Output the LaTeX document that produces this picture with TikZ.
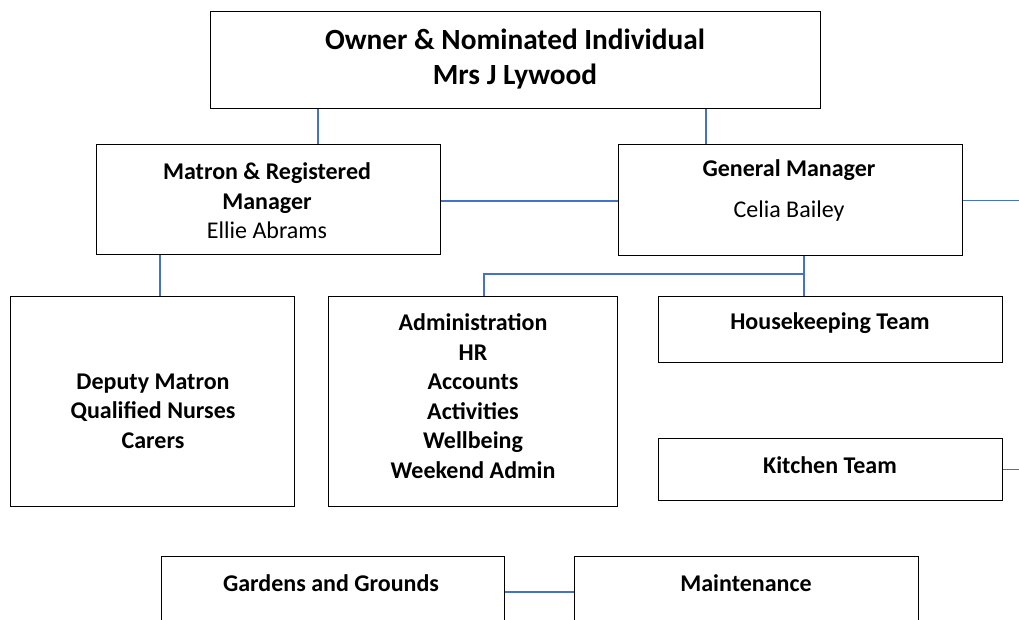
\documentclass[tikz,border=0pt]{standalone}
\usepackage{fontspec}
\setmainfont{Carlito}
\definecolor{linkblue}{RGB}{68,114,196}
\begin{document}
\begin{tikzpicture}[x=1pt,y=-1pt,
  box/.style={draw,line width=1.3pt,inner sep=0pt,anchor=north west},
  link/.style={linkblue,line width=1.1pt},
  big/.style={font=\bfseries\fontsize{29.3}{35}\selectfont,align=center},
  txt/.style={font=\fontsize{24}{29.5}\selectfont,align=center},
  btxt/.style={txt,font=\bfseries\fontsize{24}{29.5}\selectfont}]
\useasboundingbox (0,0) rectangle (1019,619);
\clip (0,0) rectangle (1019,619);
%\draw[step=50,gray,very thin] (0,0) grid (1019,619);
% boxes
\node[box,minimum width=610pt,minimum height=97pt] (owner) at (210,11) {};
\node[box,minimum width=344pt,minimum height=110pt] (matron) at (96,144) {};
\node[box,minimum width=344pt,minimum height=111pt] (gm) at (618,144) {};
\node[box,minimum width=284pt,minimum height=210pt] (deputy) at (10,296) {};
\node[box,minimum width=289pt,minimum height=210pt] (admin) at (328,296) {};
\node[box,minimum width=344pt,minimum height=66pt] (house) at (658,296) {};
\node[box,minimum width=344pt,minimum height=62pt] (kitchen) at (658,438) {};
\node[box,minimum width=343pt,minimum height=120pt] (gardens) at (161,556) {};
\node[box,minimum width=344pt,minimum height=120pt] (maint) at (574,556) {};
% texts
\node[big] (ownertxt) at (515,59) {Owner \& Nominated Individual\\Mrs J Lywood};
\node[txt] (matrontxt) at (267,201) {\textbf{Matron \& Registered}\\\textbf{Manager}\\Ellie Abrams};
\node[btxt] (gmtxt) at (789,170) {General Manager};
\node[txt] (gmname) at (789,211) {Celia Bailey};
\node[btxt] (deputytxt) at (153,411) {Deputy Matron\\Qualified Nurses\\Carers};
\node[btxt] (admintxt) at (473,396) {Administration\\HR\\Accounts\\Activities\\Wellbeing\\Weekend Admin};
\node[btxt] (housetxt) at (830,323) {Housekeeping Team};
\node[btxt] (kitchentxt) at (830,465) {Kitchen Team};
\node[btxt] (gardenstxt) at (331,583) {Gardens and Grounds};
\node[btxt] (mainttxt) at (746,583) {Maintenance};
% connectors
\coordinate (ownA) at (318,0);
\coordinate (ownB) at (706,0);
\coordinate (depA) at (160,0);
\coordinate (split) at (804,274);
\coordinate (admA) at (484,274);
\coordinate (rim) at (1019,0);
\coordinate (midy) at (0,201);
\coordinate (gy) at (0,592);
\draw[link] (owner.south -| ownA) -- (matron.north -| ownA);
\draw[link] (owner.south -| ownB) -- (gm.north -| ownB);
\draw[link] (matron.east |- midy) -- (gm.west |- midy);
\draw[link] (gm.east) -- (gm.east -| rim);
\draw[link] (matron.south -| depA) -- (deputy.north -| depA);
\draw[link] (gm.south -| split) -- (house.north -| split);
\draw[link] (split) -- (admA) -- (admin.north -| admA);
\draw[link] (kitchen.east) -- (kitchen.east -| rim);
\draw[link] (gardens.east |- gy) -- (maint.west |- gy);
\end{tikzpicture}
\end{document}
